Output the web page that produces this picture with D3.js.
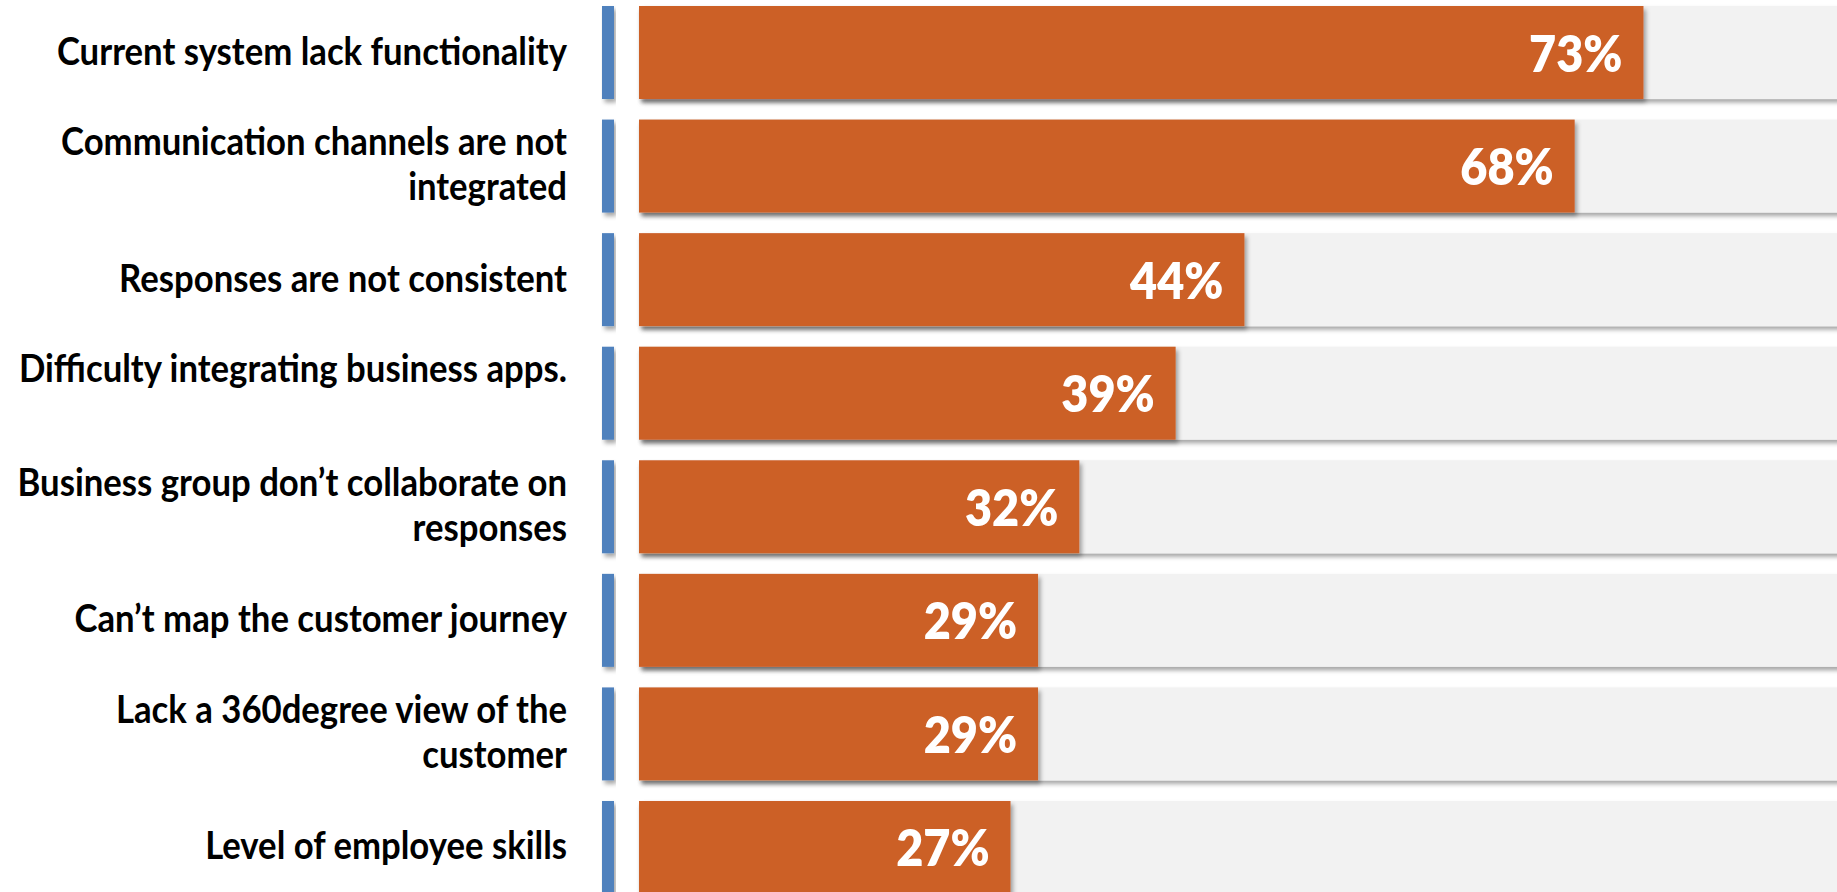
<!DOCTYPE html>
<html>
<head>
<meta charset="utf-8">
<script src="https://cdn.jsdelivr.net/npm/d3@7"></script>
<style>
  html, body { margin: 0; padding: 0; background: #ffffff; overflow: hidden; }
  svg { display: block; }
</style>
</head>
<body>
<div class="bar-chart-container"></div>
<script>
// categories (multi-line labels split on \n), values in percent
const categories = [
    "Current system lack functionality",
    "Communication channels are not\nintegrated",
    "Responses are not consistent",
    "Difficulty integrating business apps.\n",
    "Business group don\u2019t collaborate on\nresponses",
    "Can\u2019t map the customer journey",
    "Lack a 360degree view of the\ncustomer",
    "Level of employee skills"
];
const values = [73, 68, 44, 39, 32, 29, 29, 27];
const valueDomain = [0, 100];

const width = 1837;
const height = 892;

const barLeft = 639;
const labelRight = 567;

const orange = "#cc6028";
const grey = "#f2f2f2";
const blue = "#4f81bd";

let svg = d3.select(".bar-chart-container").append("svg")
    .attr("width", width)
    .attr("height", height);

// drop shadow like the office bevel
let defs = svg.append("defs");
let shadow = defs.append("filter")
    .attr("id", "shadow")
    .attr("x", "-5%").attr("y", "-20%")
    .attr("width", "115%").attr("height", "150%");
shadow.append("feDropShadow")
    .attr("dx", 2.5).attr("dy", 3.5)
    .attr("stdDeviation", 2.2)
    .attr("flood-color", "#000")
    .attr("flood-opacity", 0.35);

const rows = categories.map((c, i) => ({ label: c, value: values[i] }));

let yScale = d3.scaleBand()
    .domain(categories)
    .range([6, 894])
    .paddingInner(0.181)
    .paddingOuter(0);

// 1% is about 13.76px in the picture
let xScale = d3.scaleLinear()
    .domain(valueDomain)
    .range([barLeft, barLeft + 1376]);

let row = svg.selectAll("g.row")
    .data(rows)
    .enter()
    .append("g")
    .attr("class", "row")
    .attr("transform", d => "translate(0," + yScale(d.label) + ")");

const bw = yScale.bandwidth();

// grey track
row.append("rect")
    .attr("x", barLeft)
    .attr("y", 0)
    .attr("width", width - barLeft + 10)
    .attr("height", bw)
    .attr("fill", grey)
    .attr("filter", "url(#shadow)");

// blue marker
row.append("rect")
    .attr("x", 602)
    .attr("y", 0)
    .attr("width", 12)
    .attr("height", bw)
    .attr("fill", blue)
    .attr("filter", "url(#shadow)");

// value bar
row.append("rect")
    .attr("x", barLeft)
    .attr("y", 0)
    .attr("width", d => xScale(d.value) - barLeft)
    .attr("height", bw)
    .attr("fill", orange)
    .attr("filter", "url(#shadow)");

// percent label inside bar end
row.append("text")
    .attr("transform", d => "translate(" + (xScale(d.value) - 21) + "," + (bw / 2 + 19) + ") scale(0.9,1)")
    .attr("text-anchor", "end")
    .attr("font-family", "Lato, 'Open Sans', sans-serif")
    .attr("font-weight", 800)
    .attr("font-size", 52)
    .attr("fill", "#ffffff")
    .text(d => d.value + "%");

// category labels, right aligned
row.each(function(d) {
    let lines = d.label.split("\n");
    let g = d3.select(this);
    let firstBase = lines.length > 1 ? bw / 2 - 11 : bw / 2 + 12;
    lines.forEach((line, i) => {
        g.append("text")
            .attr("transform", "translate(" + labelRight + "," + (firstBase + i * 45) + ") scale(0.89,1)")
            .attr("text-anchor", "end")
            .attr("font-family", "Lato, 'Open Sans', sans-serif")
            .attr("font-weight", 700)
            .attr("font-size", 39)
            .attr("fill", "#000000")
            .text(line);
    });
});
</script>
</body>
</html>
